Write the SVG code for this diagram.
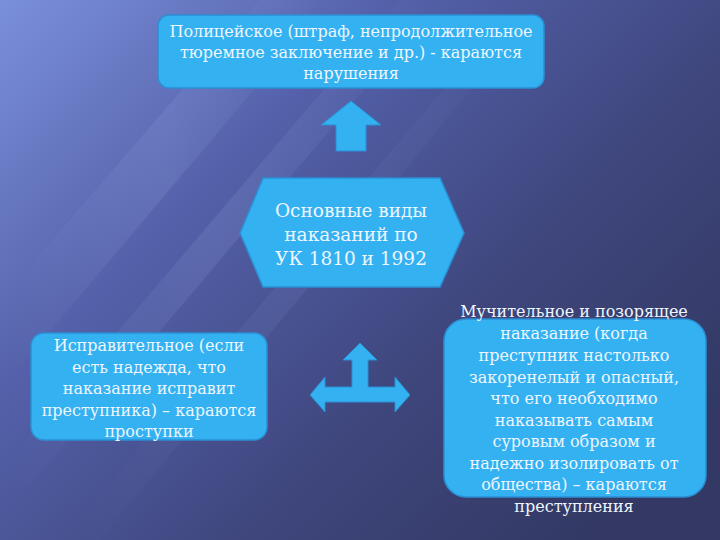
<svg xmlns="http://www.w3.org/2000/svg" width="720" height="540" viewBox="0 0 720 540">
<defs>
<linearGradient id="bg" x1="0" y1="0" x2="1" y2="0.75">
<stop offset="0" stop-color="#7b90da"/>
<stop offset="0.35" stop-color="#5461aa"/>
<stop offset="0.7" stop-color="#3e467c"/>
<stop offset="1" stop-color="#333964"/>
</linearGradient>
<linearGradient id="streak" x1="0" y1="0" x2="1" y2="0">
<stop offset="0" stop-color="#a8b8f0" stop-opacity="0"/>
<stop offset="0.5" stop-color="#a8b8f0" stop-opacity="0.18"/>
<stop offset="1" stop-color="#a8b8f0" stop-opacity="0"/>
</linearGradient>
<style>
.box{fill:#33b1f1;stroke:#2b8fd4;stroke-width:1.5}
.arr{fill:#33b1f1;stroke:#2b8fd4;stroke-width:1}
.t{font-family:"DejaVu Serif","Liberation Serif",serif;fill:#eef6ff;text-anchor:middle}
.s{font-size:16px}
.b{font-size:18.5px}
</style>
</defs>
<rect width="720" height="540" fill="url(#bg)"/>
<g opacity="0.8">
<polygon points="0,300 260,0 330,0 0,390" fill="url(#streak)"/>
<polygon points="0,470 400,0 440,0 0,520" fill="url(#streak)"/>
<polygon points="60,540 520,0 545,0 100,540" fill="url(#streak)" opacity="0.6"/>
</g>
<g id="connectors">
<path class="arr" d="M351,101 L381,125 L366,125 L366,151 L336,151 L336,125 L321,125 Z"/>
<path class="arr" d="M360,343 L377,360 L368,360 L368,387 L395,387 L395,377 L410,395 L395,412 L395,402 L325,402 L325,412 L310,395 L325,377 L325,387 L352,387 L352,360 L343,360 Z"/>
</g>
<g id="node-police">
<rect class="box" x="158" y="15" width="386" height="73" rx="11"/>
<text class="t s" x="351" y="37">Полицейское (штраф, непродолжительное</text>
<text class="t s" x="351" y="58">тюремное заключение и др.) - караются</text>
<text class="t s" x="351" y="79">нарушения</text>
</g>
<g id="node-main">
<polygon class="box" points="240,233 263,178 440,178 464,233 440,287 263,287"/>
<text class="t b" x="351" y="217">Основные виды</text>
<text class="t b" x="351" y="241">наказаний по</text>
<text class="t b" x="351" y="265">УК 1810 и 1992</text>
</g>
<g id="node-correction">
<rect class="box" x="31" y="333" width="236" height="107" rx="13"/>
<text class="t s" x="149" y="351">Исправительное (если</text>
<text class="t s" x="149" y="373">есть надежда, что</text>
<text class="t s" x="149" y="394">наказание исправит</text>
<text class="t s" x="149" y="416">преступника) – караются</text>
<text class="t s" x="149" y="437">проступки</text>
</g>
<g id="node-torture">
<rect class="box" x="444" y="319" width="262" height="178" rx="22"/>
<text class="t s" x="574" y="317">Мучительное и позорящее</text>
<text class="t s" x="574" y="339">наказание (когда</text>
<text class="t s" x="574" y="361">преступник настолько</text>
<text class="t s" x="574" y="383">закоренелый и опасный,</text>
<text class="t s" x="574" y="404">что его необходимо</text>
<text class="t s" x="574" y="426">наказывать самым</text>
<text class="t s" x="574" y="447">суровым образом и</text>
<text class="t s" x="574" y="469">надежно изолировать от</text>
<text class="t s" x="574" y="490">общества) – караются</text>
<text class="t s" x="574" y="512">преступления</text>
</g>
</svg>
